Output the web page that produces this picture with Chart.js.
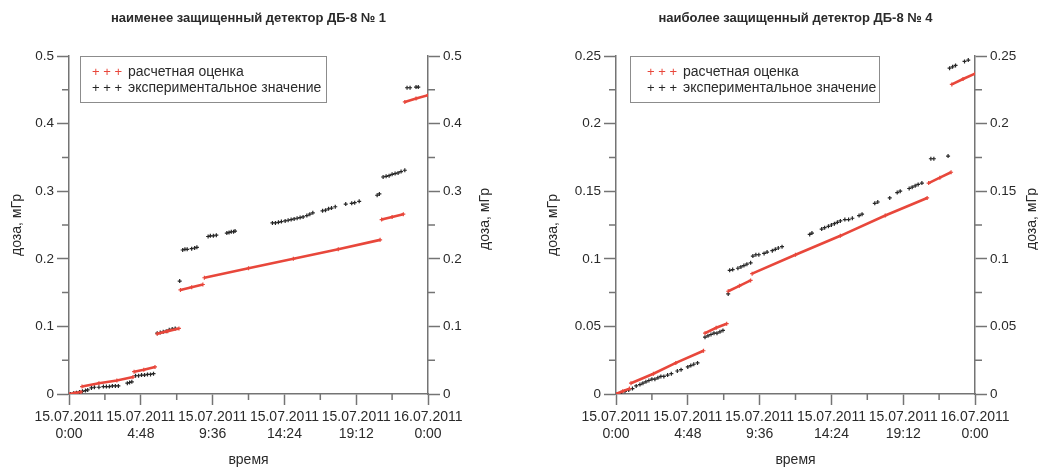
<!DOCTYPE html>
<html>
<head>
<meta charset="utf-8">
<script src="https://cdn.jsdelivr.net/npm/chart.js@4.4.1/dist/chart.umd.min.js"></script>
<style>
  html, body { margin: 0; padding: 0; background: #fff; }
  #wrap { position: relative; width: 1038px; height: 475px; overflow: hidden; }
  .panel { position: absolute; top: 0; height: 475px; }
  #p1 { left: 0; width: 520px; }
  #p2 { left: 520px; width: 518px; }
</style>
</head>
<body>
<div id="wrap">
  <div class="panel" id="p1"><canvas id="c1" width="520" height="475"></canvas></div>
  <div class="panel" id="p2"><canvas id="c2" width="518" height="475"></canvas></div>
</div>
<script>
// Time axis (hours since 15.07.2011 0:00) and its labels
const timeTickHours = [0, 4.8, 9.6, 14.4, 19.2, 24];
const timeTickLabels = [
  ['15.07.2011', '0:00'], ['15.07.2011', '4:48'], ['15.07.2011', '9:36'],
  ['15.07.2011', '14:24'], ['15.07.2011', '19:12'], ['16.07.2011', '0:00']
];
const legendLabels = ['расчетная оценка', 'экспериментальное значение'];
const panelTitles = ['наименее защищенный детектор ДБ-8 № 1', 'наиболее защищенный детектор ДБ-8 № 4'];
const axisTitleTime = 'время';
const axisTitleDose = 'доза, мГр';

// Detector No 1: calculated estimate (null = break between segments)
const calcHours1 = [0, 0.4, 0.8, null, 0.87, 2.0, 3.2, 4.28, null, 4.35, 5.0, 5.75, null,
  5.9, 6.6, 7.35, null, 7.45, 8.2, 8.95, null, 9.05, 12.0, 15.0, 18.0, 20.8, null,
  20.9, 21.6, 22.35, null, 22.45, 23.2, 24.0];
const calcDose1 = [0, 0.0015, 0.003, null, 0.011, 0.016, 0.020, 0.025, null, 0.033, 0.036, 0.040, null,
  0.089, 0.093, 0.097, null, 0.154, 0.158, 0.162, null, 0.172, 0.186, 0.200, 0.214, 0.228, null,
  0.258, 0.262, 0.266, null, 0.432, 0.437, 0.442];

// Detector No 1: measured values
const measHours1 = [0.1, 0.3, 0.5, 0.7, 0.9, 1.1, 1.25,
  1.5, 1.7, 2.0, 2.3, 2.5, 2.7, 2.9, 3.1, 3.3,
  3.9, 4.05, 4.2,
  4.45, 4.65, 4.85, 5.05, 5.25, 5.45, 5.65,
  5.9, 6.1, 6.3, 6.5, 6.7, 6.9, 7.1,
  7.4,
  7.6, 7.75, 7.9, 8.2, 8.4, 8.55,
  9.3, 9.45, 9.65, 9.85,
  10.55, 10.7, 10.85, 11.0, 11.1,
  13.6, 13.8, 14.0, 14.2, 14.45, 14.65, 14.85, 15.05, 15.25, 15.45, 15.65, 15.9, 16.1, 16.3,
  16.95, 17.15, 17.35, 17.55, 17.8,
  18.5, 18.9, 19.1, 19.4,
  20.6, 20.75,
  21.0, 21.2, 21.4, 21.6, 21.8, 22.0, 22.2, 22.45,
  22.6, 22.8, 23.2, 23.35];
const measDose1 = [0.000, 0.001, 0.002, 0.003, 0.004, 0.005, 0.006,
  0.009, 0.010, 0.010, 0.011, 0.011, 0.011, 0.012, 0.012, 0.012,
  0.016, 0.017, 0.018,
  0.027, 0.027, 0.028, 0.028, 0.029, 0.029, 0.030,
  0.090, 0.091, 0.092, 0.093, 0.095, 0.096, 0.097,
  0.167,
  0.213, 0.214, 0.214, 0.215, 0.216, 0.217,
  0.233, 0.234, 0.234, 0.235,
  0.238, 0.239, 0.240, 0.240, 0.241,
  0.253, 0.253, 0.254, 0.255, 0.256, 0.257, 0.258, 0.259, 0.260, 0.261, 0.262, 0.264, 0.266, 0.268,
  0.271, 0.272, 0.274, 0.275, 0.277,
  0.281, 0.282, 0.283, 0.285,
  0.294, 0.296,
  0.321, 0.322, 0.323, 0.325, 0.326, 0.327, 0.329, 0.331,
  0.453, 0.453, 0.454, 0.454];

// Detector No 4: calculated estimate
const calcHours4 = [0, 0.45, 0.9, null, 1.0, 2.5, 4.0, 5.85, null, 5.95, 6.7, 7.4, null,
  7.5, 8.25, 9.0, null, 9.1, 12.0, 15.0, 18.0, 20.8, null,
  20.9, 21.65, 22.4, null, 22.45, 23.2, 24.0];
const calcDose4 = [0, 0.002, 0.004, null, 0.008, 0.015, 0.023, 0.032, null, 0.045, 0.049, 0.052, null,
  0.076, 0.080, 0.084, null, 0.089, 0.103, 0.117, 0.132, 0.145, null,
  0.156, 0.160, 0.164, null, 0.229, 0.233, 0.237];

// Detector No 4: measured values
const measHours4 = [0.1, 0.35, 0.6, 0.85, 1.1, 1.35,
  1.6, 1.8, 2.0, 2.2, 2.4, 2.6, 2.8, 3.0, 3.2, 3.45, 3.7,
  4.1, 4.35,
  4.8, 5.0, 5.2, 5.45,
  5.95, 6.15, 6.35, 6.55, 6.75, 6.95, 7.15,
  7.5,
  7.6, 7.8, 8.15, 8.35, 8.55, 8.75, 9.0,
  9.15, 9.35, 9.55, 9.9, 10.1, 10.45, 10.65, 10.85, 11.1,
  12.95, 13.1,
  13.75, 13.95, 14.2, 14.4, 14.6, 14.8, 15.0, 15.3, 15.55, 15.8,
  16.25, 16.45,
  17.3, 17.5,
  18.3,
  18.8, 19.0,
  19.6, 19.8, 20.0, 20.2, 20.45,
  21.05, 21.25, 22.2,
  22.3, 22.5, 22.7, 23.3, 23.55];
const measDose4 = [0.000, 0.001, 0.002, 0.003, 0.004, 0.006,
  0.007, 0.008, 0.009, 0.010, 0.011, 0.011, 0.012, 0.013, 0.013, 0.014, 0.015,
  0.017, 0.018,
  0.020, 0.021, 0.022, 0.023,
  0.042, 0.043, 0.044, 0.045, 0.045, 0.046, 0.047,
  0.074,
  0.0915, 0.092, 0.093, 0.094, 0.095, 0.096, 0.097,
  0.102, 0.103, 0.103, 0.104, 0.105, 0.106, 0.107, 0.108, 0.109,
  0.118, 0.119,
  0.122, 0.123, 0.124, 0.125, 0.126, 0.127, 0.128, 0.129, 0.129, 0.130,
  0.132, 0.133,
  0.141, 0.142,
  0.145,
  0.149, 0.150,
  0.152, 0.153, 0.154, 0.155, 0.156,
  0.174, 0.174, 0.176,
  0.241, 0.242, 0.243, 0.246, 0.247];

const FONT = '"Liberation Sans", Arial, sans-serif';
const AXIS_COLOR = '#747474';
const TEXT_COLOR = '#2a2a2a';
const RED = '#e8473b';
const DARK = '#262626';

function toPoints(xs, ys) {
  return xs.map((x, i) => ({ x: x, y: ys[i] }));
}

function fmtDose(v) {
  return String(Math.round(v * 1000) / 1000);
}

// Legend box with "+ + +" markers, drawn inside the plot area
const legendBox = {
  id: 'legendBox',
  afterDraw(chart, args, o) {
    const { ctx, chartArea } = chart;
    const x = chartArea.left + o.dx, y = chartArea.top;
    ctx.save();
    ctx.strokeStyle = '#8c8c8c';
    ctx.lineWidth = 1;
    ctx.strokeRect(Math.round(x) + 0.5, Math.round(y) + 0.5, o.w, 46);
    ctx.textBaseline = 'middle';
    ctx.textAlign = 'left';
    const colors = [RED, DARK];
    legendLabels.forEach((t, i) => {
      const ly = y + 16 + i * 16;
      ctx.font = '13px ' + FONT;
      ctx.fillStyle = colors[i];
      ctx.fillText('+ + +', x + o.mx, ly);
      ctx.font = '14px ' + FONT;
      ctx.fillStyle = TEXT_COLOR;
      ctx.fillText(t, x + o.tx, ly);
    });
    ctx.restore();
  }
};

// Minor ticks between the labelled ones, and the right-hand axis title
const axisExtras = {
  id: 'axisExtras',
  afterDraw(chart, args, o) {
    const { ctx } = chart;
    const xs = chart.scales.x, yl = chart.scales.y, yr = chart.scales.y2;
    ctx.save();
    ctx.strokeStyle = AXIS_COLOR;
    ctx.lineWidth = 1.5;
    ctx.beginPath();
    for (let i = 0; i < timeTickHours.length - 1; i++) {
      const px = xs.getPixelForValue((timeTickHours[i] + timeTickHours[i + 1]) / 2);
      ctx.moveTo(px, xs.top);
      ctx.lineTo(px, xs.top + 6);
    }
    for (let v = o.step / 2; v < o.max; v += o.step) {
      const py = yl.getPixelForValue(v);
      ctx.moveTo(yl.right, py);
      ctx.lineTo(yl.right - 7, py);
      ctx.moveTo(yr.left, py);
      ctx.lineTo(yr.left + 7, py);
    }
    ctx.stroke();
    // right axis title, reading bottom to top like the left one
    ctx.translate(yr.left + 57, (yr.top + yr.bottom) / 2 - 6);
    ctx.rotate(-Math.PI / 2);
    ctx.font = '14px ' + FONT;
    ctx.fillStyle = TEXT_COLOR;
    ctx.textAlign = 'center';
    ctx.textBaseline = 'middle';
    ctx.fillText(axisTitleDose, 0, 0);
    ctx.restore();
  }
};

function doseAxis(position, max, step, width, titlePad) {
  return {
    type: 'linear',
    position: position,
    min: 0,
    max: max,
    afterFit(scale) { scale.width = width; },
    ticks: {
      stepSize: step,
      color: TEXT_COLOR,
      font: { family: FONT, size: 13.5 },
      padding: 3,
      callback: v => fmtDose(v)
    },
    grid: {
      drawOnChartArea: false,
      drawTicks: true,
      tickLength: 12,
      tickColor: AXIS_COLOR,
      tickWidth: 1.5
    },
    border: { display: true, color: AXIS_COLOR, width: 1.5 },
    title: position === 'left' ? {
      display: true,
      text: axisTitleDose,
      color: TEXT_COLOR,
      font: { family: FONT, size: 14 },
      padding: { top: titlePad, bottom: 0 }
    } : { display: false }
  };
}

function makeChart(id, p) {
  return new Chart(document.getElementById(id), {
    type: 'scatter',
    data: {
      datasets: [
        {
          label: legendLabels[0],
          data: toPoints(p.calcHours, p.calcDose),
          showLine: true,
          spanGaps: false,
          borderColor: RED,
          backgroundColor: RED,
          borderWidth: 2.6,
          pointStyle: 'cross',
          pointRadius: 2,
          pointBorderWidth: 1.2,
          pointBorderColor: RED
        },
        {
          label: legendLabels[1],
          data: toPoints(p.measHours, p.measDose),
          showLine: false,
          borderColor: DARK,
          backgroundColor: DARK,
          pointStyle: 'cross',
          pointRadius: 2,
          pointBorderWidth: 1.2
        }
      ]
    },
    options: {
      responsive: false,
      animation: false,
      devicePixelRatio: 1,
      layout: { padding: 0 },
      scales: {
        x: {
          type: 'linear',
          min: 0,
          max: 24,
          afterFit(scale) { scale.height = 81; },
          afterBuildTicks(scale) { scale.ticks = timeTickHours.map(v => ({ value: v })); },
          ticks: {
            autoSkip: false,
            maxRotation: 0,
            minRotation: 0,
            padding: 4,
            color: TEXT_COLOR,
            font: { family: FONT, size: 14, lineHeight: 1.2 },
            callback: (v, i) => timeTickLabels[i]
          },
          grid: {
            drawOnChartArea: false,
            drawTicks: true,
            tickLength: 11,
            tickColor: AXIS_COLOR,
            tickWidth: 1.5
          },
          border: { display: true, color: AXIS_COLOR, width: 1.5 },
          title: {
            display: true,
            text: axisTitleTime,
            color: TEXT_COLOR,
            font: { family: FONT, size: 14 },
            padding: { top: 0, bottom: 6 }
          }
        },
        y: doseAxis('left', p.max, p.step, p.leftWidth, p.titlePad),
        y2: doseAxis('right', p.max, p.step, p.rightWidth, 0)
      },
      plugins: {
        legend: { display: false },
        tooltip: { enabled: false },
        title: {
          display: true,
          text: p.title,
          fullSize: false,
          color: TEXT_COLOR,
          font: { family: FONT, size: 13, weight: 'bold', lineHeight: 1.2 },
          padding: { top: 11, bottom: 29.4 }
        },
        legendBox: { dx: p.legendDx, w: p.legendW, mx: p.markerX, tx: p.textX },
        axisExtras: { max: p.max, step: p.step }
      }
    },
    plugins: [legendBox, axisExtras]
  });
}

makeChart('c1', {
  title: panelTitles[0],
  calcHours: calcHours1, calcDose: calcDose1,
  measHours: measHours1, measDose: measDose1,
  max: 0.5, step: 0.1,
  leftWidth: 69, rightWidth: 92, titlePad: 9,
  legendDx: 11, legendW: 246, markerX: 12, textX: 48
});

makeChart('c2', {
  title: panelTitles[1],
  calcHours: calcHours4, calcDose: calcDose4,
  measHours: measHours4, measDose: measDose4,
  max: 0.25, step: 0.05,
  leftWidth: 96, rightWidth: 63, titlePad: 25,
  legendDx: 14, legendW: 249, markerX: 17, textX: 53
});
</script>
</body>
</html>
